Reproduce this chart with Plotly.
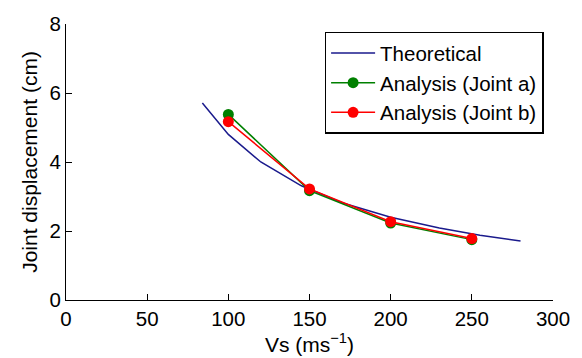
import plotly.graph_objects as go

# Theoretical curve
theo_vs = [84, 100, 120, 145, 170, 200, 230, 255, 280]
theo_disp = [5.71, 4.80, 4.00, 3.31, 2.82, 2.40, 2.09, 1.88, 1.71]

# Analysis points
vs = [100, 150, 200, 250]
joint_a = [5.38, 3.17, 2.23, 1.75]
joint_b = [5.17, 3.22, 2.27, 1.78]

x_ticks = [0, 50, 100, 150, 200, 250, 300]
y_ticks = [0, 2, 4, 6, 8]

FONT = "Liberation Sans, Arial, sans-serif"

fig = go.Figure()
fig.add_trace(go.Scatter(x=theo_vs, y=theo_disp, mode="lines", name="Theoretical",
                         line=dict(color="#1a1a8c", width=1.5)))
fig.add_trace(go.Scatter(x=vs, y=joint_a, mode="lines+markers", name="Analysis (Joint a)",
                         line=dict(color="#008000", width=1.5),
                         marker=dict(color="#008000", size=11)))
fig.add_trace(go.Scatter(x=vs, y=joint_b, mode="lines+markers", name="Analysis (Joint b)",
                         line=dict(color="#ff0000", width=1.5),
                         marker=dict(color="#ff0000", size=11)))

fig.update_layout(
    width=582, height=358,
    margin=dict(l=66, r=27, t=18, b=56),
    paper_bgcolor="white", plot_bgcolor="white",
    font=dict(family=FONT, size=19, color="black"),
    showlegend=True,
    legend=dict(x=0.531, y=0.972, xanchor="left", yanchor="top",
                bordercolor="black", borderwidth=1.5, bgcolor="white",
                font=dict(size=20.5), itemwidth=44),
)
fig.update_xaxes(range=[0, 300], tickvals=x_ticks, ticktext=[str(v) for v in x_ticks],
                 tickfont=dict(size=20.5),
                 showgrid=False, zeroline=False, showline=True, linecolor="black", linewidth=1.2,
                 ticks="inside", ticklen=6, tickcolor="black",
                 title=dict(text="Vs (ms<sup>−1</sup>)", standoff=2, font=dict(size=21)))
fig.update_yaxes(range=[0, 8], tickvals=y_ticks, ticktext=[str(v) for v in y_ticks],
                 tickfont=dict(size=20.5),
                 showgrid=False, zeroline=False, showline=True, linecolor="black", linewidth=1.2,
                 ticks="inside", ticklen=6, tickcolor="black",
                 title=dict(text="Joint displacement (cm)", standoff=6, font=dict(size=21)))

fig.write_html("out.html")
